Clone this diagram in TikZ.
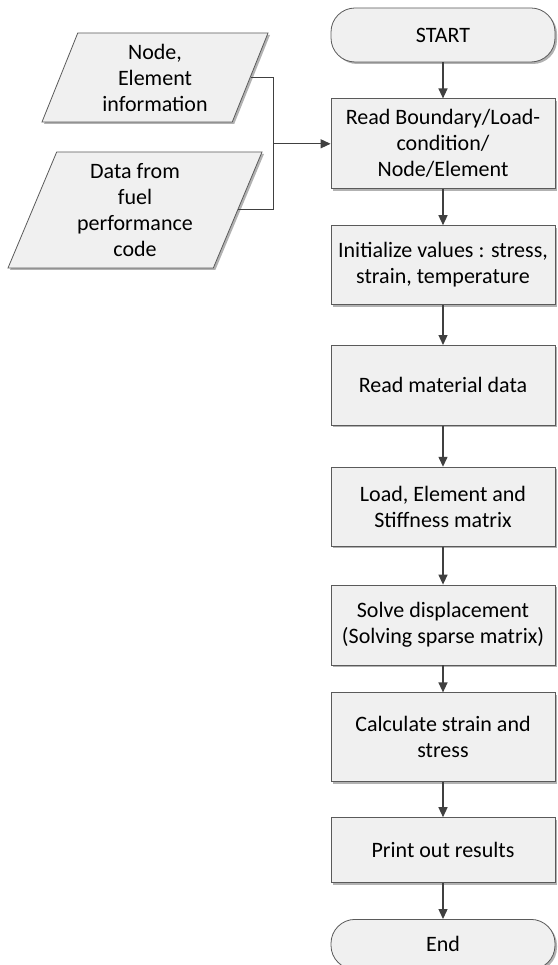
\documentclass[tikz,border=0pt]{standalone}
\usepackage{fontspec}
\setmainfont{Carlito}
\usetikzlibrary{arrows.meta,positioning,shapes.geometric,shadows}
\definecolor{boxfill}{HTML}{F0F0F0}
\definecolor{edge}{HTML}{5A5A5A}
\definecolor{linkcol}{HTML}{404040}

\begin{document}
\begin{tikzpicture}[
 box/.style={draw=edge,line width=.8pt,fill=boxfill,minimum width=224pt,align=center,font=\fontsize{22}{26}\selectfont,inner sep=2pt,drop shadow={shadow xshift=2pt,shadow yshift=-2pt,fill=black!30,opacity=1}},
 term/.style={box,rounded corners=24pt},
 datain/.style={box,trapezium,trapezium left angle=63.4,trapezium right angle=116.6,trapezium stretches body,minimum width=0pt},
 flow/.style={-{Triangle[length=10pt,width=9pt]},draw=linkcol,line width=1.3pt},
 link/.style={draw=linkcol,line width=1pt}
]
\useasboundingbox (0,0) rectangle (557pt,-965pt);
\node[term,minimum height=54pt] (start) at (443pt,-35pt) {START};
\node[box,minimum height=90pt,below=36pt of start] (read) {Read Boundary/Load-\\condition/\\Node/Element};
\node[box,minimum height=79pt,below=36pt of read] (init) {Initialize values : stress,\\strain, temperature};
\node[box,minimum height=80pt,below=40pt of init] (material) {Read material data};
\node[box,minimum height=79pt,below=41pt of material] (stiff) {Load, Element and\\Stiffness matrix};
\node[box,minimum height=80pt,below=38pt of stiff] (solve) {Solve displacement\\(Solving sparse matrix)};
\node[box,minimum height=89pt,below=27pt of solve] (calc) {Calculate strain and\\stress};
\node[box,minimum height=65pt,below=35pt of calc] (print) {Print out results};
\node[term,minimum height=50pt,below=36pt of print] (end) {End};
\node[datain,minimum width=226pt,minimum height=89pt] (info) at (155pt,-77.5pt) {Node,\\Element\\information};
\node[datain,minimum width=254pt,minimum height=116pt] (fuel) at (135pt,-210pt) {Data from\\fuel\\performance\\code};
\path (read.west) ++(-57pt,0) coordinate (merge);
\draw[link] (info.east) -| (merge) |- (fuel.east);
\draw[flow] (merge) -- (read.west);
\draw[flow] (start) -- (read);
\draw[flow] (read) -- (init);
\draw[flow] (init) -- (material);
\draw[flow] (material) -- (stiff);
\draw[flow] (stiff) -- (solve);
\draw[flow] (solve) -- (calc);
\draw[flow] (calc) -- (print);
\draw[flow] (print) -- (end);
\end{tikzpicture}
\end{document}
